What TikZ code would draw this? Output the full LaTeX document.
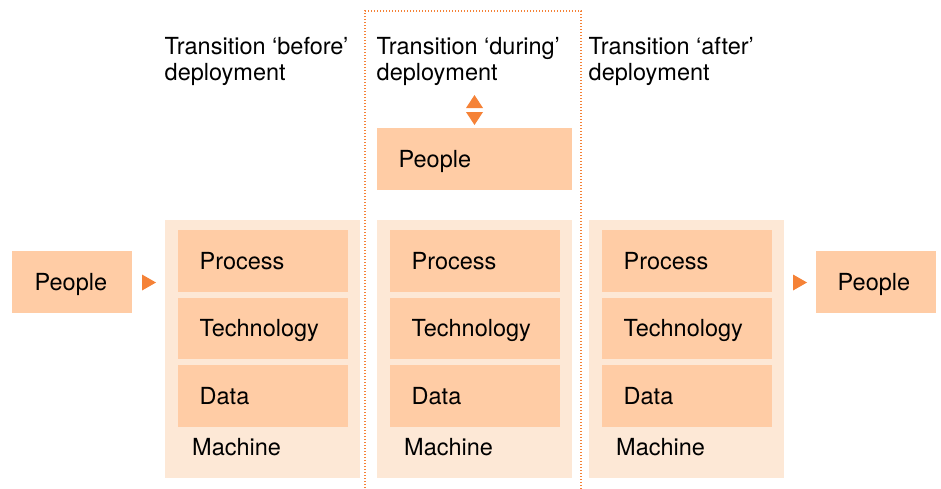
\documentclass[tikz,border=0pt]{standalone}
\usepackage{fontspec}
\setmainfont{TeX Gyre Heros}
\definecolor{boxfill}{RGB}{255,204,165}
\definecolor{outerfill}{RGB}{253,232,214}
\definecolor{arroworange}{RGB}{245,130,55}
\begin{document}
\begin{tikzpicture}[x=1pt,y=-1pt,
  lbl/.style={anchor=base west,inner sep=0pt,font=\fontsize{23.5}{27}\selectfont},
  peach/.style={fill=boxfill,draw=none},
  outer/.style={fill=outerfill,draw=none},
  tri/.style={fill=arroworange,draw=none}]
\useasboundingbox (0,0) rectangle (941,488);
% dotted frame for 'during'
\draw[arroworange,line width=1.4pt,dash pattern=on 1.4pt off 1.6pt] (365,500) -- (365,11) -- (581,11) -- (581,500);
% headings
\node[lbl] (h1a) at (164.5,54) {Transition ‘before’};
\node[lbl] (h1b) at (164.5,80) {deployment};
\node[lbl] (h2a) at (376.5,54) {Transition ‘during’};
\node[lbl] (h2b) at (376.5,80) {deployment};
\node[lbl] (h3a) at (588.5,54) {Transition ‘after’};
\node[lbl] (h3b) at (588.5,80) {deployment};
% left and right people
\fill[peach] (12,251) rectangle (132,312.5);
\node[lbl] (pl) at (34.5,290) {People};
\fill[peach] (816,251) rectangle (936,312.5);
\node[lbl] (pr) at (837.5,290) {People};
% columns
\foreach \c/\dx in {a/0,b/212,c/424}{
  \fill[outer] (165+\dx,220) rectangle (360+\dx,478);
  \fill[peach] (178+\dx,230) rectangle (348+\dx,292);
  \fill[peach] (178+\dx,298) rectangle (348+\dx,359);
  \fill[peach] (178+\dx,365) rectangle (348+\dx,427);
  \node[lbl] (proc\c) at (199.5+\dx,269) {Process};
  \node[lbl] (tech\c) at (199.5+\dx,336.5) {Technology};
  \node[lbl] (data\c) at (199.5+\dx,404) {Data};
  \node[lbl] (mach\c) at (192+\dx,455) {Machine};
}
% top people box
\fill[peach] (377,128) rectangle (572,190);
\node[lbl] (ptop) at (398.5,167) {People};
% arrowheads
\fill[tri] (142,274.5) -- (156,282.5) -- (142,290.5) -- cycle;
\fill[tri] (793,274.5) -- (807,282.5) -- (793,290.5) -- cycle;
\fill[tri] (466,108) -- (474.5,95) -- (483,108) -- cycle;
\fill[tri] (466,112) -- (474.5,125) -- (483,112) -- cycle;
\end{tikzpicture}
\end{document}
